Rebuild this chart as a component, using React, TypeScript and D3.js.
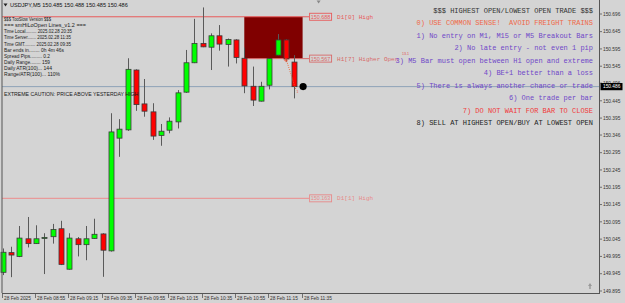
import React, { useEffect } from "react";
import * as d3 from "d3";

const W = 625;
const H = 303;

// ---- data ----
const opens = [149.949, 150.006, 149.995, 150.046, 150.032, 150.048, 150.052, 150.075, 149.958, 150.046, 150.029, 150.047, 150.060, 150.011, 150.337, 150.361, 150.534, 150.436, 150.413, 150.345, 150.360, 150.384, 150.470, 150.555, 150.611, 150.600, 150.633, 150.608, 150.621, 150.568, 150.487, 150.444, 150.490, 150.577, 150.621, 150.557];
const highs = [150.018, 150.023, 150.083, 150.109, 150.085, 150.062, 150.089, 150.098, 150.062, 150.051, 150.083, 150.104, 150.062, 150.409, 150.392, 150.568, 150.536, 150.508, 150.438, 150.378, 150.397, 150.476, 150.592, 150.682, 150.715, 150.640, 150.664, 150.625, 150.623, 150.599, 150.544, 150.500, 150.568, 150.638, 150.623, 150.577];
const lows = [149.941, 149.935, 149.993, 150.021, 150.031, 149.944, 150.032, 149.970, 149.957, 149.995, 149.984, 150.046, 149.936, 150.009, 150.283, 150.358, 150.416, 150.399, 150.332, 150.315, 150.351, 150.365, 150.468, 150.554, 150.600, 150.534, 150.590, 150.544, 150.553, 150.467, 150.430, 150.443, 150.478, 150.576, 150.558, 150.452];
const closes = [150.007, 149.999, 150.048, 150.032, 150.046, 150.050, 150.073, 149.972, 150.048, 150.029, 150.046, 150.059, 150.013, 150.355, 150.363, 150.536, 150.434, 150.415, 150.343, 150.357, 150.386, 150.468, 150.555, 150.611, 150.601, 150.633, 150.609, 150.622, 150.570, 150.488, 150.447, 150.487, 150.567, 150.621, 150.566, 150.486];

const timeLabels = ["28 Feb 2025", "28 Feb 08:55", "28 Feb 09:15", "28 Feb 09:35", "28 Feb 09:55", "28 Feb 10:15", "28 Feb 10:35", "28 Feb 10:55", "28 Feb 11:15", "28 Feb 11:35"];
const priceTicks = [150.696, 150.645, 150.595, 150.545, 150.496, 150.445, 150.395, 150.346, 150.295, 150.245, 150.195, 150.145, 150.095, 150.045, 149.995, 149.945, 149.895];

const currentPrice = 150.486;
const d1High = 150.688;
const h1HigherOpen = 150.567;
const d1PrevHigh = 150.163;
const zoneStartBar = 29;
const currentBar = 36;
const tradeFrom = [34, 150.567];
const tradeTo = [35.2, 150.476];

const headerText = "USDJPY,M5  150.485 150.488 150.485 150.486";
const infoLines = [
  "$$$ TooSlow Version $$$",
  "=== smHiLoOpen Lines_v1.2 ===",
  "Time Local......... 2025.02.28 20:35",
  "Time Server....... 2025.02.28 11:35",
  "Time GMT......... 2025.02.28 09:35",
  "Bar ends in........ 0h 4m 46s",
  "Spread Pips......... 0.2",
  "Daily Range........ 159",
  "Daily ATR(100)... 144",
  "Range/ATR(100)... 110%",
];
// rendered widths of the info lines (layout)
const infoWidths = [47, 82, 68, 67, 67, 60, 46, 46, 48, 56];
const cautionText = "EXTREME CAUTION: PRICE ABOVE YESTERDAY HIGH";
const rules = [
  "$$$ HIGHEST OPEN/LOWEST OPEN TRADE $$$",
  "0) USE COMMON SENSE!  AVOID FREIGHT TRAINS",
  "1) No entry on M1, M15 or M5 Breakout Bars",
  "2) No late entry - not even 1 pip",
  "3) M5 Bar must open between H1 open and extreme",
  "4) BE+1 better than a loss",
  "5) There is always another chance or trade",
  "6) One trade per bar",
  "7) DO NOT WAIT FOR BAR TO CLOSE",
  "8) SELL AT HIGHEST OPEN/BUY AT LOWEST OPEN",
];
const ruleColors = ["#333333", "#f06848", "#7048c8", "#7048c8", "#7048c8", "#7048c8", "#7048c8", "#7048c8", "#f03a3a", "#222222"];

const levels = [
  { price: d1High, label: "D1[0] High", color: "#e85a5a" },
  { price: h1HigherOpen, label: "H1[7] Higher Open", color: "#d86a6a" },
  { price: d1PrevHigh, label: "D1[1] High", color: "#e88a8a" },
];

export default function App() {
  useEffect(() => {
    document.body.style.margin = "0";
  }, []);

  const plotL = 2;
  const plotR = 599;
  const plotB = 293;
  const x = d3.scaleLinear().domain([0, 36]).range([2.7, 302.6]);
  const y = d3.scaleLinear().domain([149.895, 150.696]).range([291, 14]);

  const bars = d3.range(opens.length);
  const bodyW = 5;
  const labelX = x(currentBar) + 6.5;

  return (
    <svg width={W} height={H} style={{ position: "absolute", left: 0, top: 0, display: "block" }}>
      <rect x={0} y={0} width={W} height={H} fill="#d4d4d4" />

      {/* header */}
      <path d="M3.5,3.5 L7.5,3.5 L5.5,6.5 Z" fill="#222" />
      <text x={10} y={7} fontFamily="Liberation Sans, Arial, sans-serif" fontSize={5.6} fill="#111">{headerText}</text>

      {/* chart shift marker */}
      <path d={`M${x(currentBar) + 14},0.5 L${x(currentBar) + 18},0.5 L${x(currentBar) + 16},3.5 Z`} fill="#888" />

      {/* D1 high zone */}
      <rect x={x(zoneStartBar)} y={y(d1High)} width={x(currentBar) - x(zoneStartBar)} height={y(h1HigherOpen) - y(d1High)} fill="#800000" />

      {/* level lines */}
      <line x1={plotL} x2={labelX} y1={y(d1High)} y2={y(d1High)} stroke="#e85a5a" strokeWidth={1} />
      <line x1={x(zoneStartBar)} x2={labelX} y1={y(h1HigherOpen)} y2={y(h1HigherOpen)} stroke="#d86a6a" strokeWidth={1} />
      <line x1={plotL} x2={labelX} y1={y(d1PrevHigh)} y2={y(d1PrevHigh)} stroke="#e89a9a" strokeWidth={1.3} />

      {/* current price line */}
      <line x1={plotL} x2={plotR} y1={y(currentPrice)} y2={y(currentPrice)} stroke="#8ea2b8" strokeWidth={1} />

      {/* candles */}
      {bars.map((i) => {
        const o = opens[i], c = closes[i], h = highs[i], l = lows[i];
        const up = c >= o;
        const cx = Math.round(x(i)) + 0.5;
        const top = y(Math.max(o, c));
        const bot = y(Math.min(o, c));
        return (
          <g key={i}>
            <line x1={cx} x2={cx} y1={y(h)} y2={y(l)} stroke="#5a5a5a" strokeWidth={1} />
            <rect x={cx - bodyW / 2} y={top} width={bodyW} height={Math.max(bot - top, 1)} fill={up ? "#00ff00" : "#ff0000"} stroke="#3a3a3a" strokeWidth={0.8} />
          </g>
        );
      })}

      {/* trade dotted line */}
      <line x1={x(tradeFrom[0])} y1={y(tradeFrom[1])} x2={x(tradeTo[0])} y2={y(tradeTo[1])} stroke="#f06030" strokeWidth={0.9} strokeDasharray="1,1.2" />
      <path d={`M${x(tradeFrom[0]) - 2},${y(tradeFrom[1]) + 1.5} h4 M${x(tradeFrom[0])},${y(tradeFrom[1]) - 0.5} v4`} stroke="#f05030" strokeWidth={0.8} />
      <text x={x(tradeTo[0]) + 0.5} y={y(tradeTo[1]) + 3} fontFamily="Liberation Sans, Arial" fontSize={3.5} fill="#f06030">1</text>

      {/* current bar dot */}
      <circle cx={x(currentBar) + 0.5} cy={y(currentPrice)} r={3.6} fill="#000" />

      {/* level labels */}
      {levels.map((lv, k) => (
        <g key={k}>
          <rect x={labelX + 0.5} y={y(lv.price) - 3.5} width={22} height={7} fill="none" stroke={lv.color} strokeWidth={0.9} />
          <text x={labelX + 11.5} y={y(lv.price) + 1.9} textAnchor="middle" fontFamily="Liberation Sans, Arial" fontSize={5.4} fill={lv.color}>{d3.format(".3f")(lv.price)}</text>
          <text x={labelX + 28} y={y(lv.price) + 2} fontFamily="Liberation Mono, Courier New, monospace" fontSize={6} fill={lv.color}>{lv.label}</text>
        </g>
      ))}
      <text x={402} y={55.2} fontFamily="Liberation Sans, Arial" fontSize={3.6} fill="#e05050">13.1</text>

      {/* info block */}
      {infoLines.map((t, k) => (
        <text key={k} x={4} y={21 + k * 6.15} fontFamily="Liberation Sans, Arial, sans-serif" fontSize={5.1} fill="#1a1a1a" textLength={infoWidths[k]} lengthAdjust="spacingAndGlyphs">{t}</text>
      ))}
      <text x={4} y={96} fontFamily="Liberation Sans, Arial, sans-serif" fontSize={5.2} fill="#1a1a1a">{cautionText}</text>

      {/* rules */}
      {rules.map((t, k) => (
        <text key={k} x={593} y={13 + k * 12.45} textAnchor="end" fontFamily="Liberation Mono, Courier New, monospace" fontSize={7} fill={ruleColors[k]} style={{ whiteSpace: "pre" }}>{t}</text>
      ))}

      {/* frame */}
      <line x1={plotL} x2={plotL} y1={0} y2={plotB} stroke="#555" strokeWidth={1} />
      <line x1={plotL} x2={plotR} y1={plotB + 0.5} y2={plotB + 0.5} stroke="#555" strokeWidth={1} />
      <line x1={plotR + 0.5} x2={plotR + 0.5} y1={0} y2={plotB + 1} stroke="#555" strokeWidth={1} />

      {/* bottom-right marker */}
      <path d="M590,283 L592,286 L588,286 Z M589.3,286 h1.4 v3 h-1.4 Z" fill="#999" />

      {/* price axis */}
      {priceTicks.map((p, k) => (
        <g key={k}>
          <line x1={plotR + 1} x2={plotR + 3} y1={y(p)} y2={y(p)} stroke="#444" strokeWidth={0.7} />
          <text x={plotR + 4} y={y(p) + 1.7} fontFamily="Liberation Sans, Arial" fontSize={4.8} fill="#333">{d3.format(".3f")(p)}</text>
        </g>
      ))}
      <rect x={plotR + 1.5} y={y(currentPrice) - 3.6} width={22} height={7.2} fill="#000" />
      <text x={plotR + 4} y={y(currentPrice) + 1.8} fontFamily="Liberation Sans, Arial" fontSize={4.8} fill="#fff">{d3.format(".3f")(currentPrice)}</text>

      {/* time axis */}
      {timeLabels.map((t, k) => {
        const tx = Math.round(x(k * 4)) - 0.5;
        return (
          <g key={k}>
            <line x1={tx} x2={tx} y1={plotB + 1} y2={plotB + 5} stroke="#444" strokeWidth={0.7} />
            <text x={tx + 1.5} y={299.5} fontFamily="Liberation Sans, Arial" fontSize={4.8} fill="#333">{t}</text>
          </g>
        );
      })}
    </svg>
  );
}
